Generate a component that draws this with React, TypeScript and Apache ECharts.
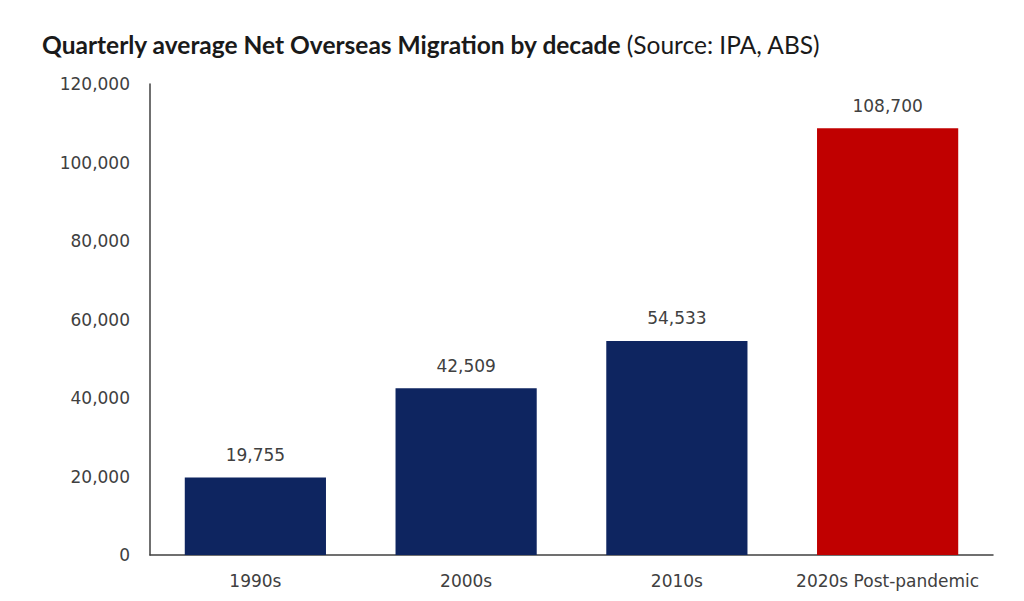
import React, { useEffect, useRef } from "react";
import * as echarts from "echarts";

const categories = ["1990s", "2000s", "2010s", "2020s Post-pandemic"];
const values = [19755, 42509, 54533, 108700];
const barColors = ["#0E2560", "#0E2560", "#0E2560", "#C00000"];
const yTicks = { min: 0, max: 120000, interval: 20000 };

export default function App() {
  const ref = useRef<HTMLDivElement>(null);
  useEffect(() => {
    if (!ref.current) return;
    const chart = echarts.init(ref.current, null, { renderer: "svg" });
    chart.setOption({
      animation: false,
      backgroundColor: "#ffffff",
      title: {
        left: 37,
        top: 27,
        text: "{b|Quarterly average Net Overseas Migration by decade} {r|(Source: IPA, ABS)}",
        textStyle: {
          rich: {
            b: { fontFamily: "Lato", fontWeight: "bold", fontSize: 24.5, color: "#1a1a1a" },
            r: { fontFamily: "Lato", fontWeight: "normal", fontSize: 24.5, color: "#1a1a1a" },
          },
        },
      },
      grid: { left: 150, right: 31, top: 84, bottom: 46 },
      xAxis: {
        type: "category",
        data: categories,
        axisLine: { lineStyle: { color: "#404040", width: 1.5 } },
        axisTick: { show: false },
        axisLabel: {
          interval: 0,
          color: "#404040",
          fontFamily: "DejaVu Sans",
          fontSize: 17,
          margin: 17,
        },
      },
      yAxis: {
        type: "value",
        min: yTicks.min,
        max: yTicks.max,
        interval: yTicks.interval,
        axisLine: { show: true, lineStyle: { color: "#404040", width: 1.5 } },
        axisTick: { show: false },
        splitLine: { show: false },
        axisLabel: {
          color: "#404040",
          fontFamily: "DejaVu Sans",
          fontSize: 17,
          margin: 20,
          formatter: (v: number) => v.toLocaleString("en-US"),
        },
      },
      series: [
        {
          type: "bar",
          barWidth: "67%",
          data: values.map((v, i) => ({ value: v, itemStyle: { color: barColors[i] } })),
          label: {
            show: true,
            position: "top",
            distance: 14,
            color: "#404040",
            fontFamily: "DejaVu Sans",
            fontSize: 17,
            formatter: (p: any) => Number(p.value).toLocaleString("en-US"),
          },
        },
      ],
    });
    return () => chart.dispose();
  }, []);
  return <div ref={ref} style={{ width: 1024, height: 601, position: "absolute", left: 0, top: 0 }} />;
}
